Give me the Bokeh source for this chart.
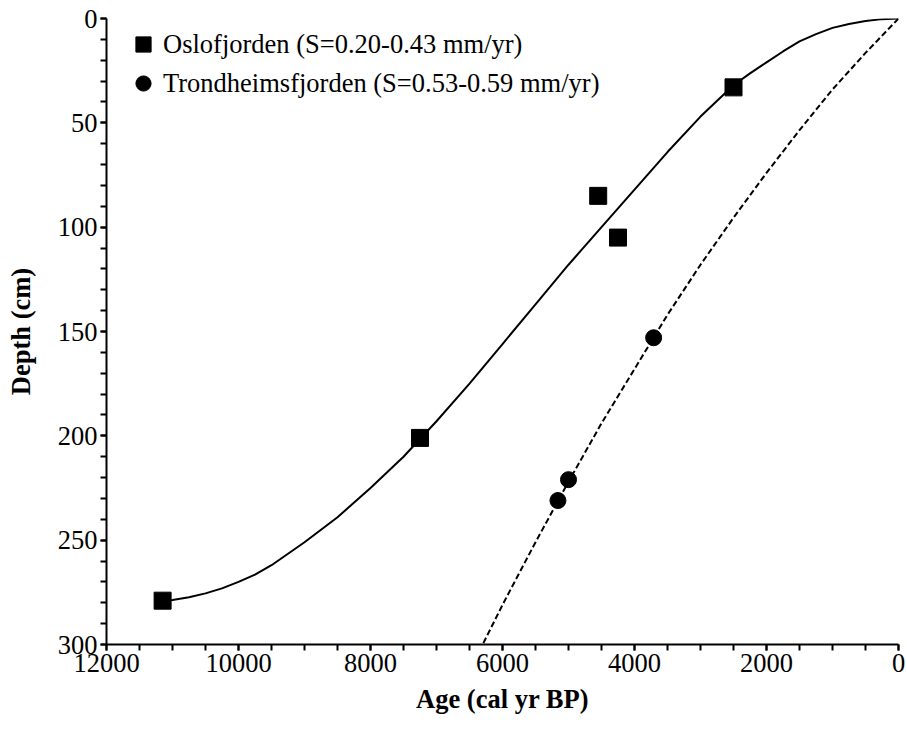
from bokeh.plotting import figure
from bokeh.models import Range1d, FixedTicker, Legend, LegendItem
from bokeh.embed import file_html
from bokeh.resources import INLINE

# Measured samples
oslo_age = [2500, 4550, 4250, 7250, 11150]
oslo_depth = [33, 85, 105, 201, 279]
trond_age = [3710, 5000, 5160]
trond_depth = [153, 221, 231]

# Trend curves
oslo_fit_age = [0, 250, 500, 750, 1000, 1250, 1500, 1750, 2000, 2250, 2500, 3000, 3500, 4000,
                4500, 5000, 5500, 6000, 6500, 7000, 7500, 8000, 8500, 9000, 9500, 9750,
                10000, 10250, 10500, 10750, 11000, 11150]
oslo_fit_depth = [0, 0.3, 1.2, 2.6, 4.5, 7.5, 11, 15.8, 21, 26.3, 32, 47, 64, 82,
                  100, 118, 137, 156, 175, 193, 210, 225, 239, 251, 262, 266.5,
                  270, 273.1, 275.5, 277.4, 278.7, 279]
trond_fit_age = [0, 500, 1000, 1500, 2000, 2500, 3000, 3500, 4000, 4500, 5000, 5500, 6000, 6300]
trond_fit_depth = [0, 16.5, 34, 53.5, 74, 95.5, 118, 142, 168, 194, 222, 251, 281, 300]

x_ticks = [0, 2000, 4000, 6000, 8000, 10000, 12000]
x_minor = list(range(0, 12001, 500))
y_ticks = [0, 50, 100, 150, 200, 250, 300]
y_minor = list(range(0, 301, 10))

labels = ["Oslofjorden (S=0.20-0.43 mm/yr)", "Trondheimsfjorden (S=0.53-0.59 mm/yr)"]

FONT = "Liberation Serif"
FS = "26.5px"

p = figure(width=907, height=731, output_backend="svg", toolbar_location=None,
           x_range=Range1d(12000, 0), y_range=Range1d(300, 0),
           min_border_left=106, min_border_right=9, min_border_top=18, min_border_bottom=87)
p.outline_line_color = None
p.grid.visible = False
p.background_fill_color = "white"
p.border_fill_color = "white"

p.xaxis.ticker = FixedTicker(ticks=x_ticks, minor_ticks=x_minor)
p.yaxis.ticker = FixedTicker(ticks=y_ticks, minor_ticks=y_minor)

p.axis.axis_line_width = 2
p.axis.axis_line_color = "black"
p.axis.major_tick_line_width = 2
p.axis.minor_tick_line_width = 2
p.axis.major_tick_line_color = "black"
p.axis.minor_tick_line_color = "black"
p.axis.major_tick_in = 0
p.axis.major_tick_out = 6
p.axis.minor_tick_in = 0
p.axis.minor_tick_out = 6
p.axis.major_label_text_font = FONT
p.axis.major_label_text_font_size = FS
p.axis.major_label_text_color = "black"
p.axis.axis_label_text_font = FONT
p.axis.axis_label_text_font_size = FS
p.axis.axis_label_text_font_style = "bold"
p.axis.axis_label_text_color = "black"

p.xaxis.axis_label = "Age (cal yr BP)"
p.yaxis.axis_label = "Depth (cm)"
p.xaxis.major_label_standoff = 3
p.xaxis.axis_label_standoff = 9
p.yaxis.major_label_standoff = 3
p.yaxis.axis_label_standoff = 19

p.line(oslo_fit_age, oslo_fit_depth, line_color="black", line_width=2)
p.line(trond_fit_age, trond_fit_depth, line_color="black", line_width=2, line_dash="6 3")

r1 = p.scatter(oslo_age, oslo_depth, marker="square", size=17, fill_color="black", line_color="black")
r2 = p.scatter(trond_age, trond_depth, marker="circle", size=16, fill_color="black", line_color="black")

legend = Legend(items=[LegendItem(label=labels[0], renderers=[r1]),
                       LegendItem(label=labels[1], renderers=[r2])],
                location=(17, 542))
legend.border_line_color = None
legend.background_fill_alpha = 0
legend.padding = 0
legend.margin = 0
legend.glyph_width = 40
legend.glyph_height = 38
legend.label_height = 38
legend.label_standoff = 0
legend.spacing = 1
legend.label_text_font = FONT
legend.label_text_font_size = FS
legend.label_text_color = "black"
p.add_layout(legend)

open("out.html", "w").write(file_html(p, INLINE))
